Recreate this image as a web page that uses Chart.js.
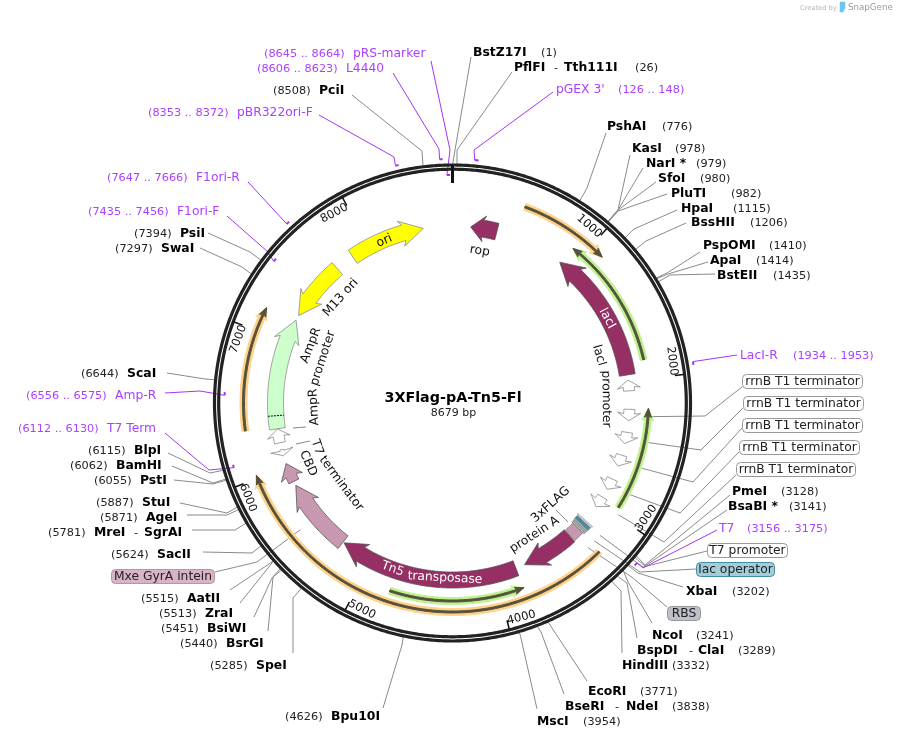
<!DOCTYPE html>
<html>
<head>
<meta charset="utf-8">
<title>3XFlag-pA-Tn5-Fl</title>
<script src="https://cdn.jsdelivr.net/npm/chart.js@4"></script>
<style>
  html, body { margin: 0; padding: 0; background: #fff; }
  canvas { display: block; }
</style>
</head>
<body>
<canvas id="plasmid" width="897" height="739"></canvas>
<script>
// Plasmid data, all in base pairs
const plasmidName = '3XFlag-pA-Tn5-Fl';
const plasmidSize = 8679;
const tickValues = [1000, 2000, 3000, 4000, 5000, 6000, 7000, 8000];

const enzymeNames = ['BstZ17I', 'PflFI', 'PshAI', 'KasI', 'NarI *', 'SfoI', 'PluTI', 'HpaI', 'BssHII', 'PspOMI', 'ApaI', 'BstEII',
    'PmeI', 'BsaBI *', 'XbaI', 'NcoI', 'BspDI', 'HindIII', 'EcoRI', 'BseRI', 'MscI', 'Bpu10I', 'SpeI', 'BsrGI', 'BsiWI', 'ZraI',
    'AatII', 'SacII', 'MreI', 'AgeI', 'StuI', 'PstI', 'BamHI', 'BlpI', 'ScaI', 'SwaI', 'PsiI', 'PciI'];
const enzymeSites = [1, 26, 776, 978, 979, 980, 982, 1115, 1206, 1410, 1414, 1435,
    3128, 3141, 3202, 3241, 3289, 3332, 3771, 3838, 3954, 4626, 5285, 5440, 5451, 5513,
    5515, 5624, 5781, 5871, 5887, 6055, 6062, 6115, 6644, 7297, 7394, 8508];
const altNames = { PflFI: 'Tth111I', BspDI: 'ClaI', BseRI: 'NdeI', MreI: 'SgrAI' };

const primerNames = ['pRS-marker', 'L4440', 'pBR322ori-F', 'F1ori-R', 'F1ori-F', "pGEX 3'", 'LacI-R', 'T7', 'Amp-R', 'T7 Term'];
const primerStarts = [8645, 8606, 8353, 7647, 7435, 126, 1934, 3156, 6556, 6112];
const primerEnds = [8664, 8623, 8372, 7666, 7456, 148, 1953, 3175, 6575, 6130];

const featureNames = ['rop', 'ori', 'M13 ori', 'AmpR', 'AmpR promoter', 'T7 terminator', 'CBD', 'Mxe GyrA intein', 'Tn5 transposase',
    'protein A', 'lacI', 'lacI promoter', 'rrnB T1 terminator', 'rrnB T1 terminator', 'rrnB T1 terminator', 'rrnB T1 terminator', 'rrnB T1 terminator'];
const featureStarts = [142, 7852, 7223, 6307, 6196, 6092, 5875, 5260, 3833, 3341, 899, 1990, 2219, 2400, 2583, 2783, 2944];
const featureEnds = [350, 8450, 7700, 7182, 6305, 6140, 6027, 5841, 5251, 3761, 1950, 2075, 2309, 2490, 2673, 2873, 3034];
const featureDirs = [-1, 1, -1, 1, 1, -1, 1, 1, 1, 1, -1, -1, 1, 1, 1, 1, 1];
const signalPeptideEnd = 6410;

const orfStarts = [489, 6324, 3264, 914, 2206, 3828];
const orfEnds = [1104, 7165, 6022, 1862, 2946, 4785];
const orfDirs = [1, 1, 1, -1, -1, -1];

// Layout and styles of the drawing
const CX = 452.5, CY = 403;
const MAROON = '#962f63', MAUVE = '#c897b0', PALE = '#ccffcc', YELLOW = '#ffff00', WHITE = '#ffffff';
const featureStyles = [
    [MAROON, 17, 26, 12], [YELLOW, 16, 26, 20], [YELLOW, 16, 26, 20], [PALE, 16, 26, 20], [WHITE, 11, 23, 7], [WHITE, 4, 23, 5],
    [MAUVE, 11, 23, 13], [MAUVE, 16, 26, 20], [MAROON, 16, 26, 20], [MAROON, 16, 26, 20], [MAROON, 16, 26, 20], [WHITE, 11, 23, 7],
    [WHITE, 11, 23, 7], [WHITE, 11, 23, 7], [WHITE, 11, 23, 7], [WHITE, 11, 23, 7], [WHITE, 11, 23, 7]
];
const orfRadius = [209, 209, 209, 196, 196, 198];
const orfHalo = ['#ffd28c', '#ffd28c', '#ffd28c', '#bdf28f', '#bdf28f', '#bdf28f'];

// [nameX, numberX, y, lineEndX, lineEndY, elbowX, elbowY]
const enzymeLayout = [
    [473, 541, 52, 471, 57, 455, 150], [514, 635, 67, 512, 72, 457, 150], [607, 662, 126, 606, 133, 587, 188],
    [632, 675, 148, 630, 155, 618, 210], [646, 696, 163, 643, 168, 618, 210], [658, 700, 178, 656, 182, 618, 210],
    [671, 731, 193, 667, 194, 618, 211], [681, 733, 208, 677, 210, 634, 229], [691, 750, 222, 686, 223, 646, 241],
    [703, 769, 245, 700, 252, 667, 273], [710, 756, 260, 708, 262, 668, 274], [717, 773, 275, 715, 274, 670, 275],
    [732, 781, 491, 730, 495, 645, 565], [728, 789, 506, 727, 510, 645, 566], [686, 732, 591, 683, 587, 638, 573],
    [652, 696, 635, 652, 623, 628, 582], [637, 738, 650, 637, 638, 627, 583], [622, 672, 665, 622, 653, 621, 591],
    [588, 640, 691, 587, 681, 552, 628], [565, 672, 706, 564, 694, 541, 632], [537, 583, 721, 537, 709, 520, 634],
    [331, 285, 716, 383, 708, 402, 645], [256, 210, 665, 293, 653, 293, 598], [226, 180, 643, 268, 631, 273, 577],
    [207, 161, 628, 254, 617, 272, 578], [205, 159, 613, 240, 603, 272, 563], [187, 141, 598, 230, 590, 272, 562],
    [157, 111, 554, 203, 552, 252, 553], [94, 48, 532, 192, 530, 235, 530], [146, 100, 517, 187, 515, 227, 515],
    [142, 96, 502, 180, 503, 227, 513], [140, 94, 480, 174, 480, 213, 484], [116, 70, 465, 172, 466, 213, 483],
    [134, 88, 450, 168, 453, 210, 473], [127, 81, 373, 167, 373, 205, 379], [161, 115, 248, 200, 248, 242, 267],
    [180, 134, 233, 208, 233, 250, 252], [319, 273, 90, 352, 95, 422, 151]
];
const altLayout = { PflFI: [554, 564], BspDI: [689, 698], BseRI: [615, 626], MreI: [134, 144] };

// [nameX, rangeX, y, lineEndX, lineEndY, elbowX, elbowY, bracketRadius]
const primerLayout = [
    [353, 264, 53, 431, 61, 450, 150, 228], [346, 257, 68, 393, 73, 439, 149, 244], [237, 148, 112, 319, 115, 394, 157, 244],
    [196, 107, 177, 248, 182, 285, 222, 244], [177, 88, 211, 227, 216, 268, 252, 228], [556, 618, 89, 553, 92, 474, 150, 244],
    [740, 793, 355, 737, 355, 697, 361, 244], [719, 747, 528, 717, 530, 643, 568, 244], [115, 26, 395, 165, 393, 200, 391, 228],
    [107, 18, 428, 165, 433, 209, 470, 228]
];

// [text, left, right, centerY, fill, stroke, site, startRadius, elbowX, elbowY, lineEndX, lineEndY]
const boxLabels = [
    ['rrnB T1 terminator', 742, 862, 381, '#fff', '#999', 2264, 200, 705, 416, 742, 387],
    ['rrnB T1 terminator', 743, 863, 403, '#fff', '#999', 2445, 200, 701, 450, 743, 408],
    ['rrnB T1 terminator', 742, 862, 425, '#fff', '#999', 2628, 200, 693, 482, 742, 428],
    ['rrnB T1 terminator', 739, 859, 447, '#fff', '#999', 2828, 200, 680, 513, 739, 452],
    ['rrnB T1 terminator', 736, 855, 469, '#fff', '#999', 2989, 200, 664, 542, 736, 475],
    ['T7 promoter', 707, 787, 550, '#fff', '#999', 3180, 198, 643, 567, 707, 551],
    ['lac operator', 696, 774, 569, '#a3cdd9', '#3f8ea5', 3235, 198, 640, 572, 696, 569],
    ['RBS', 667, 700, 613, '#bcc0c8', '#999', 3300, 198, 633, 578, 667, 607],
    ['Mxe GyrA intein', 111, 214, 576, '#d8b4c6', '#c090a8', 5550, 198, 257, 562, 215, 572]
];

// [text, x, y, rotation, colour]
const arcLabels = [
    ['rop', 480, 250, 10, '#111'], ['ori', 384, 240, -23, '#111'], ['M13 ori', 340, 297, -48, '#111'],
    ['lacI', 608, 318, 62, '#fff'], ['lacI', 600, 355, 74, '#111'], ['promoter', 607, 399, 89, '#111'],
    ['AmpR', 310, 345, -69, '#111'], ['promoter', 322, 358, -72, '#111'], ['AmpR', 313, 407, -93, '#111'],
    ['T7', 318, 447, 71, '#111'], ['terminator', 342, 483, 53, '#111'], ['CBD', 309, 463, 66, '#111'],
    ['Tn5', 393, 568, 20, '#fff'], ['transposase', 445, 577, 3, '#fff'],
    ['protein A', 534, 534, -33, '#111'], ['3xFLAG', 550, 504, -42, '#111']
];

const datasets = [];

function polar(bp, r) {
    const a = bp / plasmidSize * 2 * Math.PI;
    return { x: CX + r * Math.sin(a), y: CY - r * Math.cos(a) };
}

function arcPoints(from, to, r) {
    const n = Math.max(2, Math.ceil(Math.abs(to - from) / 12));
    const pts = [];
    for (let i = 0; i <= n; i++) pts.push(polar(from + (to - from) * i / n, r));
    return pts;
}

// The long solid dash keeps Chart.js off its fast path, which merges points sharing a pixel column
function addLine(points, color, width, extra) {
    datasets.push(Object.assign({
        data: points, showLine: true, fill: false, borderColor: color, borderWidth: width,
        pointRadius: 0, tension: 0, clip: false, borderDash: [100000, 0], order: -datasets.length
    }, extra));
}

function addShape(points, fillColor, stroke, width) {
    addLine(points.concat([points[0]]), stroke || fillColor, width === undefined ? 1 : width,
        { fill: 'shape', backgroundColor: fillColor });
}

// Arrow polygon along the circle, tip at "end" when dir is 1 and at "start" when dir is -1
function arrowPoints(start, end, dir, r, body, head, headLen) {
    const tail = dir > 0 ? start : end;
    const tip = dir > 0 ? end : start;
    const lenBp = headLen / (2 * Math.PI * r) * plasmidSize;
    const neck = tip - dir * lenBp;
    const barb = neck - dir * lenBp * 0.15;
    return arcPoints(tail, neck, r + body / 2)
        .concat([polar(barb, r + head / 2), polar(tip, r), polar(barb, r - head / 2)])
        .concat(arcPoints(neck, tail, r - body / 2));
}

function addLeader(points, color) {
    addLine(points, color || '#8a8a8a', 1);
}

// Leaders sit under the ring
enzymeNames.forEach((name, i) => {
    const l = enzymeLayout[i];
    addLeader([{ x: l[3], y: l[4] }, { x: l[5], y: l[6] }, polar(enzymeSites[i], 239)]);
});
boxLabels.forEach(b => {
    addLeader([polar(b[6], b[7]), { x: b[8], y: b[9] }, { x: b[10], y: b[11] }]);
});
primerNames.forEach((name, i) => {
    const l = primerLayout[i];
    const hook = polar(primerStarts[i], l[7]);
    addLeader([{ x: l[3], y: l[4] }, { x: l[5], y: l[6] }, hook], '#a434f5');
});
addLeader([{ x: 293, y: 428 }, { x: 306, y: 427 }]);
addLeader([{ x: 296, y: 444 }, { x: 310, y: 441 }]);
addLeader([{ x: 556, y: 510 }, { x: 568, y: 522 }]);

// Backbone
addLine(arcPoints(0, plasmidSize, 238), '#222', 3.2);
addLine(arcPoints(0, plasmidSize, 233.8), '#222', 3.2);

// Position ticks
addLine([polar(0, 238), polar(0, 220)], '#111', 3);
tickValues.forEach(v => addLine([polar(v, 233), polar(v, 224)], '#111', 1.5));

// Primer brackets
primerNames.forEach((name, i) => {
    const r = primerLayout[i][7];
    addLine(arcPoints(primerStarts[i], primerEnds[i], r), '#a434f5', 2);
});

// Long open reading frame arcs with a soft halo
orfStarts.forEach((s, i) => {
    addShape(arrowPoints(s, orfEnds[i], orfDirs[i], orfRadius[i], 7, 12, 11), orfHalo[i]);
    addShape(arrowPoints(s, orfEnds[i], orfDirs[i], orfRadius[i], 2, 7, 8), '#55513a');
});

// Feature arrows
featureNames.forEach((name, i) => {
    const st = featureStyles[i];
    const stroke = st[0] === WHITE || st[0] === PALE || st[0] === YELLOW ? '#8a8a8a' : '#555';
    addShape(arrowPoints(featureStarts[i], featureEnds[i], featureDirs[i], 177, st[1], st[2], st[3]), st[0], stroke, 0.8);
});
addLine([polar(signalPeptideEnd, 185), polar(signalPeptideEnd, 169)], '#111', 1, { borderDash: [2, 1] });

// 3xFLAG stack next to protein A
function addBlock(from, to, r, width, fillColor, stroke) {
    addShape(arcPoints(from, to, r + width / 2).concat(arcPoints(to, from, r - width / 2)), fillColor, stroke || '#666', 0.6);
}
addBlock(3255, 3335, 177, 14, MAUVE);
addBlock(3240, 3252, 177, 17, '#b9bbc2');
addBlock(3226, 3238, 177, 17, '#b9bbc2');
addBlock(3214, 3224, 177, 18, '#b9bbc2');
addBlock(3184, 3210, 177, 18, '#3f8ea5');
addBlock(3168, 3176, 177, 20, '#fff', '#777');

// SnapGene mark beside the credit
addShape([{ x: 840, y: 2 }, { x: 845, y: 2 }, { x: 845, y: 8 }, { x: 843, y: 12 }, { x: 840, y: 12 }], '#6ec6ee', '#6ec6ee', 0.5);

// Text layer, placed through the chart scales
function drawText(chart, text, x, y, font, color, align, rotation) {
    const { ctx, scales } = chart;
    ctx.save();
    ctx.translate(scales.x.getPixelForValue(x), scales.y.getPixelForValue(y));
    if (rotation) ctx.rotate(rotation * Math.PI / 180);
    ctx.font = font;
    ctx.fillStyle = color;
    ctx.textAlign = align || 'left';
    ctx.textBaseline = 'middle';
    ctx.fillText(text, 0, 1);
    ctx.restore();
}

const FONT = '"DejaVu Sans", sans-serif';
const BOLD = 'bold 12.4px ' + FONT;
const NUM = '11.3px ' + FONT;
const NAME = '12.3px ' + FONT;
const PURPLE = '#ac40ff';

const textPlugin = {
    id: 'mapText',
    afterDatasetsDraw(chart) {
        const { ctx, scales } = chart;

        boxLabels.forEach(b => {
            const x = scales.x.getPixelForValue(b[1]);
            const y = scales.y.getPixelForValue(b[3] - 7);
            ctx.beginPath();
            ctx.roundRect(x + 0.5, y + 0.5, b[2] - b[1], 14, 4);
            ctx.fillStyle = b[4];
            ctx.fill();
            ctx.strokeStyle = b[5];
            ctx.lineWidth = 1;
            ctx.stroke();
            drawText(chart, b[0], (b[1] + b[2]) / 2 + 0.5, b[3], NAME, '#222', 'center');
        });

        enzymeNames.forEach((name, i) => {
            const l = enzymeLayout[i];
            drawText(chart, name, l[0], l[2], BOLD, '#000');
            drawText(chart, '(' + enzymeSites[i] + ')', l[1], l[2], NUM, '#222');
            if (altNames[name]) {
                drawText(chart, '-', altLayout[name][0], l[2], NUM, '#222');
                drawText(chart, altNames[name], altLayout[name][1], l[2], BOLD, '#000');
            }
        });

        primerNames.forEach((name, i) => {
            const l = primerLayout[i];
            drawText(chart, name, l[0], l[2], NAME, PURPLE);
            drawText(chart, '(' + primerStarts[i] + ' .. ' + primerEnds[i] + ')', l[1], l[2], NUM, PURPLE);
        });

        arcLabels.forEach(t => drawText(chart, t[0], t[1], t[2], NAME, t[4], 'center', t[3]));

        tickValues.forEach(v => {
            const deg = v / plasmidSize * 360;
            const p = polar(v, 224);
            if (deg > 90 && deg < 270) drawText(chart, String(v), p.x, p.y, '11.5px ' + FONT, '#111', 'left', deg - 180);
            else drawText(chart, String(v), p.x, p.y, '11.5px ' + FONT, '#111', 'right', deg);
        });

        drawText(chart, plasmidName, 453, 397, 'bold 14.3px ' + FONT, '#000', 'center');
        drawText(chart, plasmidSize + ' bp', 453.5, 412, '11px ' + FONT, '#222', 'center');

        drawText(chart, 'Created by', 800, 7, '6.7px ' + FONT, '#b5b5b5');
        drawText(chart, 'SnapGene', 848, 7, '8.7px ' + FONT, '#9a9a9a');
    }
};

new Chart(document.getElementById('plasmid').getContext('2d'), {
    type: 'scatter',
    data: { datasets },
    plugins: [textPlugin],
    options: {
        responsive: false,
        animation: false,
        events: [],
        layout: { padding: 0 },
        plugins: { legend: { display: false }, tooltip: { enabled: false } },
        scales: {
            x: { type: 'linear', min: 0, max: 897, display: false },
            y: { type: 'linear', min: 0, max: 739, reverse: true, display: false }
        }
    }
});
</script>
</body>
</html>
